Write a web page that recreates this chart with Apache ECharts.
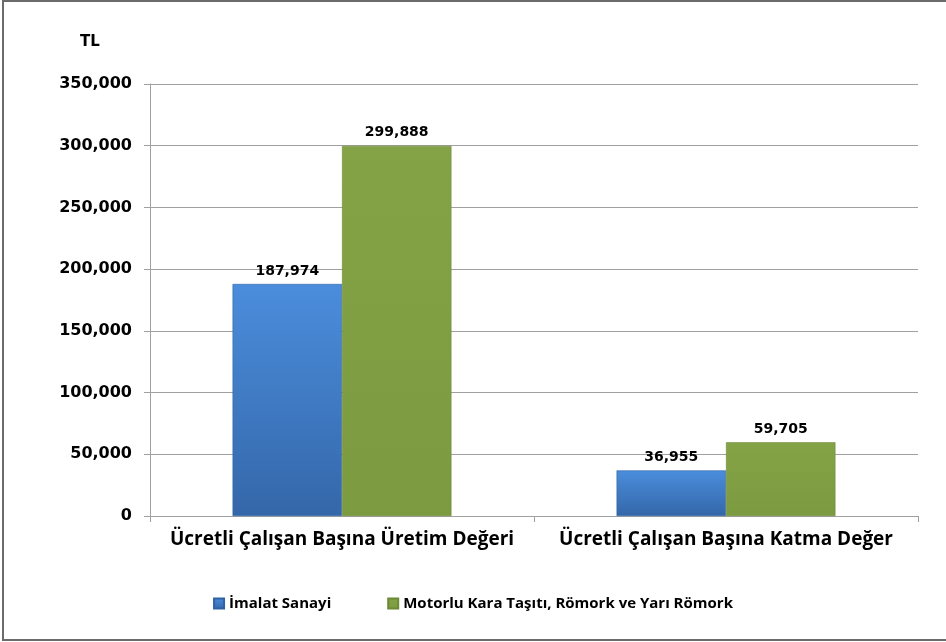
<!DOCTYPE html>
<html>
<head>
<meta charset="utf-8">
<script src="https://cdn.jsdelivr.net/npm/echarts@6/dist/echarts.min.js"></script>
<style>html,body{margin:0;padding:0;background:#fff}#c{width:946px;height:642px}</style>
</head>
<body>
<div id="c"></div>
<script>
const categories = ["Ücretli Çalışan Başına Üretim Değeri", "Ücretli Çalışan Başına Katma Değer"];
const seriesNames = ["İmalat Sanayi", "Motorlu Kara Taşıtı, Römork ve Yarı Römork"];
const imalatValues = [187974, 36955];
const motorluValues = [299888, 59705];
const yUnit = "TL";

const chart = echarts.init(document.getElementById('c'), null, {renderer: 'canvas'});
const numFont = 'DejaVu Sans';
const txtFont = 'Open Sans';
function fmt(v){ return v.toLocaleString('en-US'); }
const blue = new echarts.graphic.LinearGradient(0,0,0,1,[{offset:0,color:'#4b8ddc'},{offset:1,color:'#3467a9'}]);
const green = new echarts.graphic.LinearGradient(0,0,0,1,[{offset:0,color:'#84a346'},{offset:1,color:'#7c9a40'}]);
chart.setOption({
  animation: false,
  graphic: [{type:'rect', shape:{x:3,y:1,width:960,height:639}, style:{fill:'none', stroke:'#6b6b6b', lineWidth:2}, silent:true}],
  legend: {
    bottom: 26, left: 'center', itemWidth: 10, itemHeight: 10, itemGap: 56,
    icon: 'rect',
    textStyle: {fontFamily: txtFont, fontWeight: 'bold', fontSize: 15, color: '#000'},
    data: seriesNames
  },
  grid: {left: 150, right: 28, top: 84, bottom: 126, containLabel: false},
  xAxis: {
    type: 'category', data: categories,
    axisLine: {lineStyle: {color: '#a0a0a0', width: 1}},
    axisTick: {show: true, length: 6, lineStyle: {color: '#a0a0a0'}},
    axisLabel: {interval: 0, hideOverlap: false, fontFamily: txtFont, fontWeight: 'bold', fontSize: 19, color: '#000', margin: 14}
  },
  yAxis: {
    type: 'value', min: 0, max: 350000, interval: 50000,
    name: yUnit, nameLocation: 'end', nameGap: 34,
    nameTextStyle: {fontFamily: numFont, fontWeight: 'bold', fontSize: 15, color: '#000', padding: [0, 120, 0, 0]},
    axisLine: {show: true, lineStyle: {color: '#a0a0a0'}},
    axisTick: {show: true, length: 6, lineStyle: {color: '#a0a0a0'}},
    splitLine: {lineStyle: {color: '#a0a0a0', width: 1}},
    axisLabel: {fontFamily: numFont, fontWeight: 'bold', fontSize: 16, color: '#000', margin: 18, formatter: fmt}
  },
  series: [
    {name: seriesNames[0], type: 'bar', data: imalatValues, barGap: '0%', barCategoryGap: '43%',
     itemStyle: {color: blue, borderColor: '#2f62a3', borderWidth: 0.6},
     label: {show: true, position: 'top', distance: 6, formatter: p => fmt(p.value), fontFamily: numFont, fontWeight: 'bold', fontSize: 14, color: '#000'}},
    {name: seriesNames[1], type: 'bar', data: motorluValues,
     itemStyle: {color: green, borderColor: '#6c8a35', borderWidth: 0.6},
     label: {show: true, position: 'top', distance: 6, formatter: p => fmt(p.value), fontFamily: numFont, fontWeight: 'bold', fontSize: 14, color: '#000'}}
  ]
});
</script>
</body>
</html>
